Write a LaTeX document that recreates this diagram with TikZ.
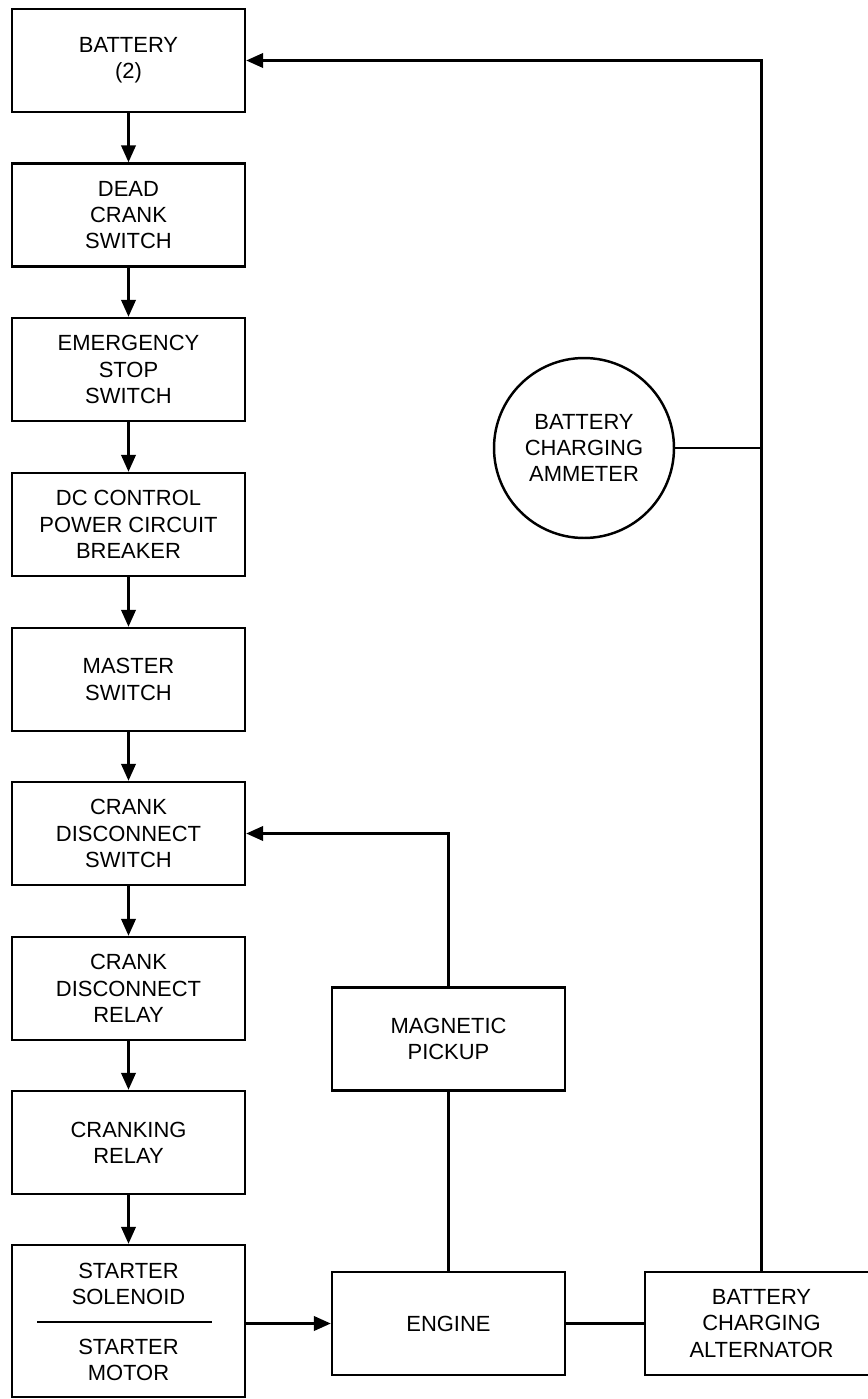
\documentclass[tikz,border=0pt]{standalone}
\usepackage{fontspec}
\setmainfont{Liberation Sans}
\usetikzlibrary{arrows.meta, positioning, calc}

\begin{document}
\begin{tikzpicture}[
    x=0.02cm, y=-0.02cm,
    every node/.style={font=\fontsize{12.5}{15}\selectfont},
]

% ================================================================
%  GEOMETRY: one unit = one pixel of the 867 x 1399 sheet, y down.
%  left column centred at x = 128, boxes 233 x 103, pitch ~154.5
%  right side: pickup and engine at x = 448, alternator at x = 762,
%  the return bus runs up x = 763 to the battery.
% ================================================================

\tikzset{
  blk/.style={draw=black, line width=1.4pt, fill=white, align=center,
              minimum width=4.66cm, minimum height=2.06cm, inner sep=2pt},
  meter/.style={draw=black, line width=1.4pt, circle, align=center,
                minimum size=3.6cm, inner sep=0pt},
  flow/.style={-{Triangle[length=0.34cm, width=0.29cm]}, line width=1.4pt},
  wire/.style={line width=1.4pt},
}

\useasboundingbox (0,0) rectangle (867,1399);
\fill[white] (0,0) rectangle (867,1399);

% ---------------------------------------------------------------- left column
\foreach \y/\nm/\txt in {
    60.5/bat/{BATTERY\\(2)},
    215/dead/{DEAD\\CRANK\\SWITCH},
    369.5/estop/{EMERGENCY\\STOP\\SWITCH},
    524.5/dcbrk/{DC CONTROL\\POWER CIRCUIT\\BREAKER},
    679.5/master/{MASTER\\SWITCH},
    833.5/cds/{CRANK\\DISCONNECT\\SWITCH},
    988.5/cdr/{CRANK\\DISCONNECT\\RELAY},
    1142.5/crank/{CRANKING\\RELAY}} {
    \node[blk] (\nm) at (128.5, \y) {\txt};
}

% starter: one box, two texts, a rule between them
\node[blk, minimum height=3.04cm] (start) at (128.5, 1321) {};
\node[align=center] (sol) at (128.5, 1284) {STARTER\\SOLENOID};
\node[align=center] (mot) at (128.5, 1360) {STARTER\\MOTOR};
\coordinate (sepl) at (37, 1322);
\coordinate (sepr) at (212, 1322);
\draw[wire] (sepl) -- (sepr);

\foreach \a/\b in {bat/dead, dead/estop, estop/dcbrk, dcbrk/master,
                   master/cds, cds/cdr, cdr/crank, crank/start} {
    \draw[flow] (\a) -- (\b);
}

% ---------------------------------------------------------------- right side
\node[blk] (pick) at (448.5, 1039) {MAGNETIC\\PICKUP};
\node[blk] (eng) at (448.5, 1323.5) {ENGINE};
\node[blk] (alt) at (761.5, 1323.5) {BATTERY\\CHARGING\\ALTERNATOR};
\node[meter] (amm) at (584, 448) {BATTERY\\CHARGING\\AMMETER};

% ---------------------------------------------------------------- connectors
\draw[flow] (start.east |- eng) -- (eng.west);
\draw[wire] (eng) -- (alt);
\draw[wire] (eng) -- (pick);
\draw[flow] (pick.north) |- (cds.east);
\draw[flow] (alt.north) -- (alt.north |- bat) -- (bat.east);
\draw[wire] (amm.east) -- (amm.east -| alt.north);

\end{tikzpicture}
\end{document}
